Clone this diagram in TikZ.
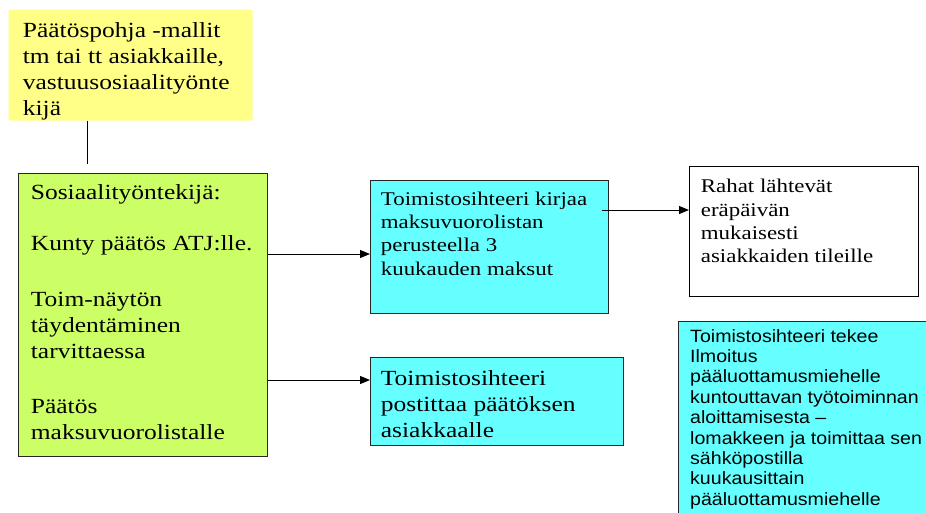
\documentclass[tikz,border=0pt]{standalone}
\usepackage{fontspec}
\usepackage{graphicx}
\setmainfont{Liberation Serif}
\newfontfamily\arialfont{Liberation Sans}
\usetikzlibrary{arrows.meta}
\definecolor{keltainen}{HTML}{FFFF88}
\definecolor{vihrea}{HTML}{CCFF66}
\definecolor{syaani}{HTML}{66FFFF}
\newcommand{\venyta}[2]{\scalebox{#1}[1]{\begin{tabular}[t]{@{}l@{}}#2\end{tabular}}}
\tikzset{
	laatikko/.style={draw=black!85,line width=1pt,anchor=north west,inner sep=0pt},
	teksti/.style={anchor=base west,inner sep=0pt,font=\fontsize{21.6}{26}\selectfont},
	pieni/.style={font=\fontsize{19.4}{23.4}\selectfont},
	nuoli/.style={->,line width=1pt}
}
\begin{document}
\begin{tikzpicture}[x=1pt,y={(0pt,-1pt)},>={Triangle[length=10pt,width=8pt]}]
			\clip (0,0) rectangle (926,512);
			\node [laatikko,draw=none,fill=keltainen,rounded corners=2pt,minimum width=244pt,minimum height=111pt](pohja) at (8,9) {};
			\node [laatikko,fill=vihrea,minimum width=249pt,minimum height=283pt](sostt) at (18,173) {};
			\node [laatikko,fill=syaani,minimum width=238pt,minimum height=133pt](kirjaa) at (370,180) {};
			\node [laatikko,draw=black,minimum width=229pt,minimum height=130pt](rahat) at (689,166) {};
			\node [laatikko,fill=syaani,minimum width=253pt,minimum height=88pt](postitus) at (370,357) {};
			\node [laatikko,fill=syaani,minimum width=270pt,minimum height=210pt](ilmoitus) at (678,321) {};
			\node [teksti](pohjateksti) at (22.7,37.3) {\venyta{1.18}{Päätöspohja -mallit\\tm tai tt asiakkaille,\\vastuusosiaalityönte\\kijä}};
			\node [teksti](sosttteksti) at (30.7,199) {\venyta{1.18}{Sosiaalityöntekijä:\\[25.7pt]Kunty päätös ATJ:lle.\\[30pt]Toim-näytön\\täydentäminen\\tarvittaessa\\[28.7pt]Päätös\\maksuvuorolistalle}};
			\node [teksti,pieni](kirjaateksti) at (380.7,205) {\venyta{1.18}{Toimistosihteeri kirjaa\\maksuvuorolistan\\perusteella 3\\kuukauden maksut}};
			\node [teksti,pieni](rahatteksti) at (700.7,192.7) {\venyta{1.18}{Rahat lähtevät\\eräpäivän\\mukaisesti\\asiakkaiden tileille}};
			\node [teksti](postitusteksti) at (380.7,385) {\venyta{1.18}{Toimistosihteeri\\postittaa päätöksen\\asiakkaalle}};
			\node [teksti,font=\arialfont\fontsize{17.8}{20.4}\selectfont](ilmoitusteksti) at (690,342) {\venyta{1.1}{Toimistosihteeri tekee\\Ilmoitus\\pääluottamusmiehelle\\kuntouttavan työtoiminnan\\aloittamisesta –\\lomakkeen ja toimittaa sen\\sähköpostilla\\kuukausittain\\pääluottamusmiehelle}};
			\coordinate (viiva) at (87.3,164);
			\coordinate (taso1) at (0,254);
			\coordinate (taso2) at (0,380);
			\coordinate (lahto) at (602,210);
			\draw[line width=1pt] (pohja.south -| viiva) -- (viiva);
			\draw[nuoli] (sostt.east |- taso1) -- (kirjaa.west |- taso1);
			\draw[nuoli] (sostt.east |- taso2) -- (postitus.west |- taso2);
			\draw[nuoli] (lahto) -- (rahat.west |- lahto);
\end{tikzpicture}
\end{document}
